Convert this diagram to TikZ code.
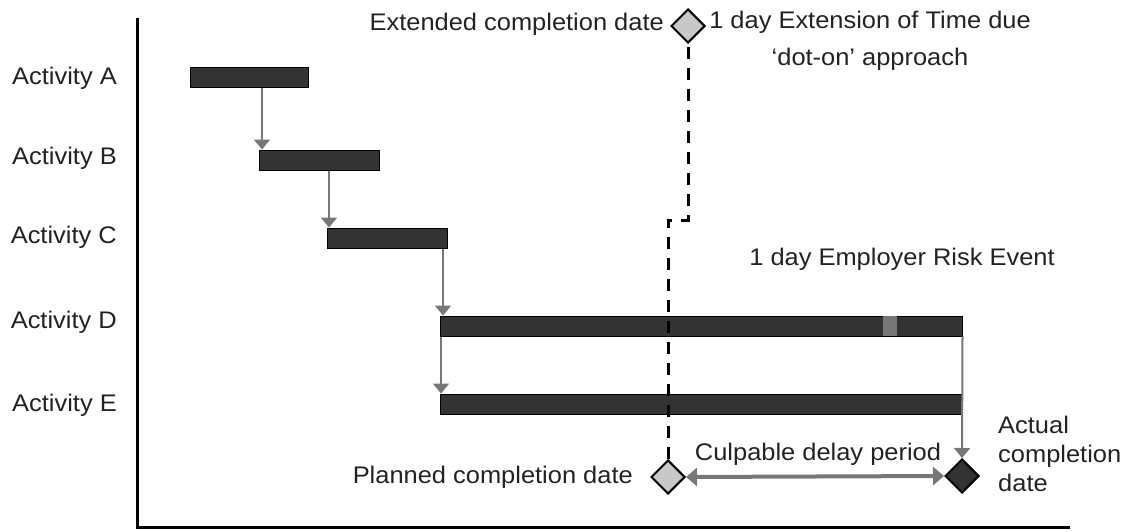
\documentclass[tikz,border=0pt]{standalone}
\usepackage{fontspec}
\setmainfont[FakeStretch=1.06]{Liberation Sans}
\usetikzlibrary{shapes.geometric,arrows.meta}
\definecolor{bardark}{HTML}{333333}
\definecolor{linkgrey}{HTML}{777777}
\definecolor{dgrey}{HTML}{C8C8C8}
\definecolor{txt}{HTML}{222222}
\begin{document}
\begin{tikzpicture}[x=1pt,y=-1pt,
  every node/.style={font=\fontsize{24}{29}\selectfont, text=txt, inner sep=0pt},
  bar/.style={draw=black, line width=1pt, fill=bardark, minimum height=20pt},
  arr/.style={draw=linkgrey, line width=2pt, -{Triangle[width=16pt,length=10pt]}},
  dmd/.style={diamond, draw=black, line width=2pt, minimum width=34pt, minimum height=34pt, inner sep=0pt},
  dashln/.style={draw=black, line width=3pt, dash pattern=on 12pt off 9pt},
  lbl/.style={anchor=east}]
\useasboundingbox (0,0) rectangle (1126,532);
% axes
\draw[line width=3pt, black] (137,18) -- (137,527) -- (1070,527);
% bars
\node[bar, minimum width=118pt] (A) at (249,78) {};
\node[bar, minimum width=120pt] (B) at (319,160) {};
\node[bar, minimum width=120pt] (C) at (387,238) {};
\node[bar, minimum width=522pt] (D) at (701,326) {};
\node[bar, minimum width=522pt] (E) at (701,404) {};
\fill[linkgrey] (883,316) rectangle (897,336);
% labels
\node[lbl] (la) at (117,78) {Activity A};
\node[lbl] (lb) at (117,158) {Activity B};
\node[lbl] (lc) at (117,237) {Activity C};
\node[lbl] (ld) at (117,322) {Activity D};
\node[lbl] (le) at (117,405) {Activity E};
% links
\draw[arr] (A.south -| 262,0) -- (B.north -| 262,0);
\draw[arr] (B.south -| 329,0) -- (C.north -| 329,0);
\draw[arr] (C.south -| 443,0) -- (D.north -| 443,0);
\draw[arr] (D.south -| 441,0) -- (E.north -| 441,0);
% diamonds
\node[dmd, fill=dgrey] (ext) at (688,26) {};
\node[dmd, fill=dgrey] (plan) at (668,477) {};
\node[dmd, fill=bardark] (act) at (962,476) {};
\draw[arr] (D.south east) -- (act.north);
% dashed step line
\coordinate (s1) at (668,220);
\coordinate (s2) at (688,220);
\draw[dashln] (plan.north) -- (s1) -- (s2) -- (ext.south);
% culpable arrow
\draw[draw=linkgrey, line width=4pt, {Triangle[width=18pt,length=11pt]}-{Triangle[width=18pt,length=11pt]}] (plan.east) -- (act.west);
% texts
\node[anchor=east] (te) at (664,24) {Extended completion date};
\node[align=center] (tx) at (870,41) {1 day Extension of Time due\\[8pt]‘dot-on’ approach};
\node (tr) at (902,259) {1 day Employer Risk Event};
\node[anchor=east] (tp) at (633,477) {Planned completion date};
\node (tc) at (818,454) {Culpable delay period};
\node[anchor=west, align=left] (ta) at (998,454) {Actual\\completion\\date};
\end{tikzpicture}
\end{document}
